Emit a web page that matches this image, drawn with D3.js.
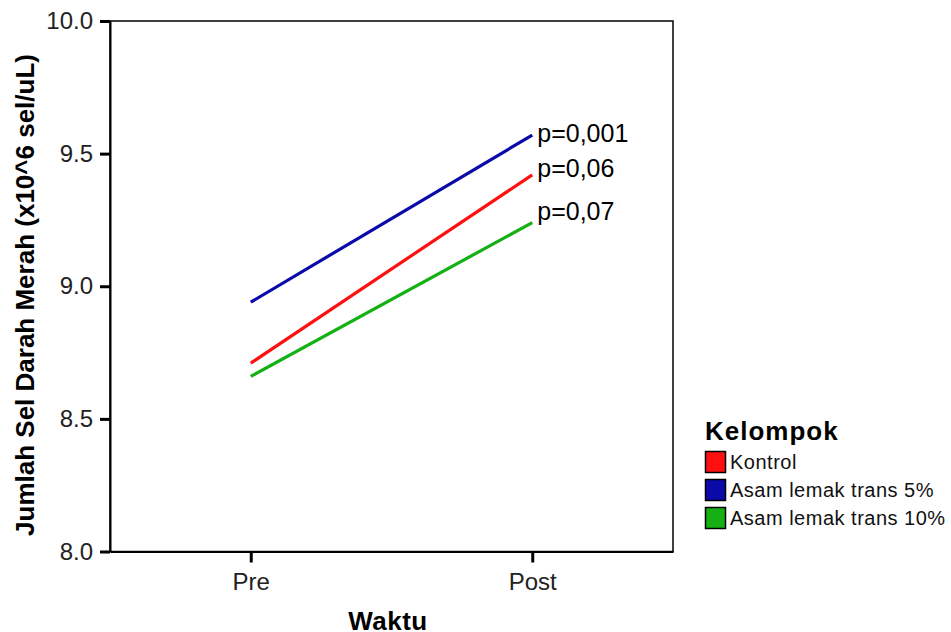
<!DOCTYPE html>
<html><head><meta charset="utf-8">
<script src="https://cdn.jsdelivr.net/npm/d3@7"></script>
<style>body{margin:0;background:#fff}svg{display:block}</style>
</head><body>
<svg id="c" width="951" height="632"></svg>
<script>
const categories = ["Pre", "Post"];
const seriesNames = ["Kontrol", "Asam lemak trans 5%", "Asam lemak trans 10%"];
const kontrol = [8.71, 9.42];
const trans5 = [8.94, 9.57];
const trans10 = [8.66, 9.24];
const yTicks = [8.0, 8.5, 9.0, 9.5, 10.0];
const pLabels = ["p=0,001", "p=0,06", "p=0,07"];
const pLabelY = [9.544, 9.412, 9.25];
const colors = ["#ff1010", "#0a0aaa", "#14b014"];

const svg = d3.select("#c");
const L = 110, R = 673, T = 21, B = 551.5;
const x = d3.scalePoint().domain(categories).range([L, R]).padding(0.5);
const y = d3.scaleLinear().domain([8, 10]).range([B, T]);
const font = "'Liberation Sans', Arial, sans-serif";

// frame
svg.append("rect").attr("x", L).attr("y", T).attr("width", R - L).attr("height", B - T)
  .attr("fill", "none").attr("stroke", "#000").attr("stroke-width", 1.5);

// y axis
const ya = svg.append("g").attr("transform", `translate(${L},0)`)
  .call(d3.axisLeft(y).tickValues(yTicks).tickFormat(d3.format(".1f")).tickSize(10).tickSizeOuter(0).tickPadding(7));
ya.select(".domain").attr("stroke-width", 2);
ya.selectAll(".tick line").attr("stroke-width", 3);
ya.selectAll(".tick text").attr("font-family", font).attr("font-size", 24).attr("fill", "#222");

// x axis
const xa = svg.append("g").attr("transform", `translate(0,${B})`)
  .call(d3.axisBottom(x).tickSize(11).tickSizeOuter(0).tickPadding(10));
xa.select(".domain").attr("stroke-width", 2);
xa.selectAll(".tick line").attr("stroke-width", 3);
xa.selectAll(".tick text").attr("font-family", font).attr("font-size", 24).attr("fill", "#222");

// lines
const series = [kontrol, trans5, trans10];
const line = d3.line().x((d, i) => x(categories[i])).y(d => y(d));
[2, 0, 1].forEach(k => {
  svg.append("path").datum(series[k]).attr("d", line)
    .attr("fill", "none").attr("stroke", colors[k]).attr("stroke-width", 3.2);
});

// p labels
pLabels.forEach((t, i) => {
  svg.append("text").attr("x", x("Post") + 5).attr("y", y(pLabelY[i]))
    .attr("font-family", font).attr("font-size", 25).attr("fill", "#000").text(t);
});

// axis titles
svg.append("text").attr("transform", `translate(34,295) rotate(-90)`)
  .attr("text-anchor", "middle").attr("font-family", font).attr("font-weight", "bold")
  .attr("font-size", 26).text("Jumlah Sel Darah Merah (x10^6 sel/uL)");
svg.append("text").attr("x", 388).attr("y", 630).attr("text-anchor", "middle")
  .attr("font-family", font).attr("font-weight", "bold").attr("font-size", 26).attr("letter-spacing", 0.5)
  .text("Waktu");

// legend
const lg = svg.append("g").attr("transform", "translate(705,0)");
lg.append("text").attr("x", 0).attr("y", 440).attr("font-family", font).attr("font-weight", "bold")
  .attr("font-size", 26).attr("letter-spacing", 1).text("Kelompok");
seriesNames.forEach((n, i) => {
  lg.append("rect").attr("x", 0.5).attr("y", 451.5 + i * 28).attr("width", 20).attr("height", 21)
    .attr("fill", colors[i]).attr("stroke", "#000").attr("stroke-width", 1.5);
  lg.append("text").attr("x", 25).attr("y", 469 + i * 28).attr("font-family", font)
    .attr("font-size", 20).attr("letter-spacing", 0.5).attr("fill", "#111").text(n);
});
</script>
</body></html>
